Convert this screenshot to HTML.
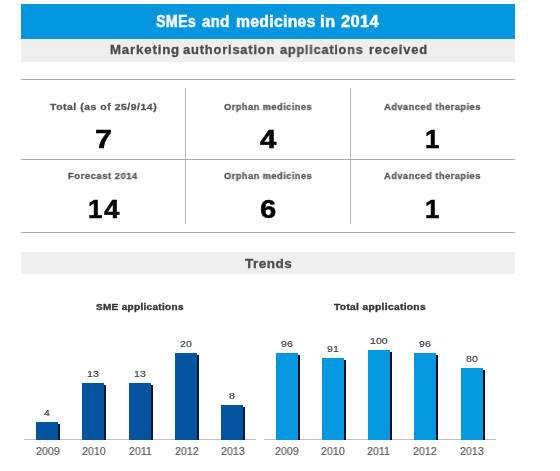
<!DOCTYPE html>
<html><head><meta charset="utf-8"><style>
html,body{margin:0;padding:0;background:#fff;width:560px;height:471px;overflow:hidden;position:relative}
body>div{position:absolute}
.t{will-change:transform;white-space:nowrap;line-height:1;font-family:"Liberation Sans",sans-serif;transform-origin:0 0}
</style></head><body>
<div style="left:21px;top:4px;width:494px;height:35px;background:#0396de;"></div>
<div style="left:21px;top:39px;width:494px;height:23px;background:#efefef;"></div>
<div style="left:21px;top:79px;width:494px;height:1px;background:#aaaaaa;"></div>
<div style="left:21px;top:159px;width:494px;height:1px;background:#aaaaaa;"></div>
<div style="left:21px;top:232px;width:494px;height:1px;background:#aaaaaa;"></div>
<div style="left:185px;top:88px;width:1px;height:136px;background:#b4b4b4;"></div>
<div style="left:350px;top:88px;width:1px;height:136px;background:#b4b4b4;"></div>
<div style="left:21px;top:252px;width:494px;height:22px;background:#efefef;"></div>
<div style="left:24px;top:439px;width:232px;height:1px;background:#c0c0c0;"></div>
<div style="left:264px;top:439px;width:232px;height:1px;background:#c0c0c0;"></div>
<div class="t" style="left:156.26px;top:14px;font-size:15.698px;font-weight:bold;color:#ffffff;-webkit-text-stroke:0.5px #ffffff;letter-spacing:0.3px;transform:scaleX(0.9097)">SMEs</div>
<div class="t" style="left:202.28px;top:14px;font-size:15.698px;font-weight:bold;color:#ffffff;-webkit-text-stroke:0.5px #ffffff;letter-spacing:0.3px;transform:scaleX(0.9555)">and</div>
<div class="t" style="left:236.11px;top:14px;font-size:15.698px;font-weight:bold;color:#ffffff;-webkit-text-stroke:0.5px #ffffff;letter-spacing:0.3px;transform:scaleX(1.0036)">medicines</div>
<div class="t" style="left:319.58px;top:14px;font-size:15.698px;font-weight:bold;color:#ffffff;-webkit-text-stroke:0.5px #ffffff;letter-spacing:0.3px;transform:scaleX(1.0683)">in</div>
<div class="t" style="left:341.27px;top:14px;font-size:15.698px;font-weight:bold;color:#ffffff;-webkit-text-stroke:0.5px #ffffff;letter-spacing:0.3px;transform:scaleX(1.0556)">2014</div>
<div class="t" style="left:109.67px;top:44px;font-size:12.936px;font-weight:bold;color:#4a4a4a;-webkit-text-stroke:0.3px #4a4a4a;letter-spacing:0.8px;transform:scaleX(1.0257)">Marketing</div>
<div class="t" style="left:183.34px;top:44px;font-size:12.936px;font-weight:bold;color:#4a4a4a;-webkit-text-stroke:0.3px #4a4a4a;letter-spacing:0.8px;transform:scaleX(0.9987)">authorisation</div>
<div class="t" style="left:280.15px;top:44px;font-size:12.936px;font-weight:bold;color:#4a4a4a;-webkit-text-stroke:0.3px #4a4a4a;letter-spacing:0.8px;transform:scaleX(0.9829)">applications</div>
<div class="t" style="left:368.59px;top:44px;font-size:12.936px;font-weight:bold;color:#4a4a4a;-webkit-text-stroke:0.3px #4a4a4a;letter-spacing:0.8px;transform:scaleX(0.9995)">received</div>
<div class="t" style="left:49.95px;top:102px;font-size:9.593px;font-weight:bold;color:#555555;-webkit-text-stroke:0.3px #555555;letter-spacing:0.5px;transform:scaleX(1.0863)">Total (as of 25/9/14)</div>
<div class="t" style="left:223.87px;top:102px;font-size:9.593px;font-weight:bold;color:#555555;-webkit-text-stroke:0.3px #555555;letter-spacing:0.5px;transform:scaleX(0.9625)">Orphan medicines</div>
<div class="t" style="left:384.05px;top:102px;font-size:9.593px;font-weight:bold;color:#555555;-webkit-text-stroke:0.3px #555555;letter-spacing:0.5px;transform:scaleX(0.969)">Advanced therapies</div>
<div class="t" style="left:68.42px;top:171px;font-size:9.593px;font-weight:bold;color:#555555;-webkit-text-stroke:0.3px #555555;letter-spacing:0.5px;transform:scaleX(0.9914)">Forecast 2014</div>
<div class="t" style="left:223.87px;top:171px;font-size:9.593px;font-weight:bold;color:#555555;-webkit-text-stroke:0.3px #555555;letter-spacing:0.5px;transform:scaleX(0.9625)">Orphan medicines</div>
<div class="t" style="left:384.05px;top:171px;font-size:9.593px;font-weight:bold;color:#555555;-webkit-text-stroke:0.3px #555555;letter-spacing:0.5px;transform:scaleX(0.969)">Advanced therapies</div>
<div class="t" style="left:94.93px;top:127px;font-size:25.873px;font-weight:bold;color:#000000;-webkit-text-stroke:0.5px #000000;transform:scaleX(1.1795)">7</div>
<div class="t" style="left:259.55px;top:127px;font-size:25.873px;font-weight:bold;color:#000000;-webkit-text-stroke:0.5px #000000;transform:scaleX(1.1352)">4</div>
<div class="t" style="left:425.41px;top:127px;font-size:25.873px;font-weight:bold;color:#000000;-webkit-text-stroke:0.5px #000000;transform:scaleX(0.9802)">1</div>
<div class="t" style="left:87.52px;top:197px;font-size:25.873px;font-weight:bold;color:#000000;-webkit-text-stroke:0.5px #000000;transform:scaleX(0.9723)">1</div>
<div class="t" style="left:104.26px;top:197px;font-size:25.873px;font-weight:bold;color:#000000;-webkit-text-stroke:0.5px #000000;transform:scaleX(1.0655)">4</div>
<div class="t" style="left:260.07px;top:196px;font-size:26.454px;font-weight:bold;color:#000000;-webkit-text-stroke:0.5px #000000;transform:scaleX(1.1078)">6</div>
<div class="t" style="left:425.38px;top:197px;font-size:25.873px;font-weight:bold;color:#000000;-webkit-text-stroke:0.5px #000000;transform:scaleX(0.9962)">1</div>
<div class="t" style="left:244.8px;top:257px;font-size:13.372px;font-weight:bold;color:#4d4d4d;-webkit-text-stroke:0.35px #4d4d4d;letter-spacing:0.5px;transform:scaleX(1.0087)">Trends</div>
<div class="t" style="left:96.2px;top:302px;font-size:9.739px;font-weight:bold;color:#333333;-webkit-text-stroke:0.35px #333333;letter-spacing:0.3px;transform:scaleX(1.0292)">SME applications</div>
<div class="t" style="left:333.65px;top:302px;font-size:9.739px;font-weight:bold;color:#333333;-webkit-text-stroke:0.35px #333333;letter-spacing:0.3px;transform:scaleX(1.0533)">Total applications</div>
<div style="left:58px;top:424px;width:2px;height:16px;background:#061a38"></div>
<div style="left:36px;top:422px;width:22px;height:18px;background:#03539f"></div>
<div class="t" style="left:44.09px;top:409px;font-size:9.302px;font-weight:normal;color:#3c3c3c;-webkit-text-stroke:0.15px #3c3c3c;transform:scaleX(1.137)">4</div>
<div class="t" style="left:35.62px;top:446px;font-size:11.192px;font-weight:normal;color:#555555;-webkit-text-stroke:0.15px #555555;transform:scaleX(0.9519)">2009</div>
<div style="left:104px;top:385px;width:2px;height:55px;background:#061a38"></div>
<div style="left:82px;top:383px;width:22px;height:57px;background:#03539f"></div>
<div class="t" style="left:86.95px;top:370px;font-size:9.302px;font-weight:normal;color:#3c3c3c;-webkit-text-stroke:0.15px #3c3c3c;transform:scaleX(1.137)">13</div>
<div class="t" style="left:81.59px;top:446px;font-size:11.192px;font-weight:normal;color:#555555;-webkit-text-stroke:0.15px #555555;transform:scaleX(0.9519)">2010</div>
<div style="left:151px;top:385px;width:2px;height:55px;background:#061a38"></div>
<div style="left:129px;top:383px;width:22px;height:57px;background:#03539f"></div>
<div class="t" style="left:133.95px;top:370px;font-size:9.302px;font-weight:normal;color:#3c3c3c;-webkit-text-stroke:0.15px #3c3c3c;transform:scaleX(1.137)">13</div>
<div class="t" style="left:129.02px;top:446px;font-size:11.192px;font-weight:normal;color:#555555;-webkit-text-stroke:0.15px #555555;transform:scaleX(0.9519)">2011</div>
<div style="left:197px;top:355px;width:2px;height:85px;background:#061a38"></div>
<div style="left:175px;top:353px;width:22px;height:87px;background:#03539f"></div>
<div class="t" style="left:180.08px;top:340px;font-size:9.302px;font-weight:normal;color:#3c3c3c;-webkit-text-stroke:0.15px #3c3c3c;transform:scaleX(1.137)">20</div>
<div class="t" style="left:174.65px;top:446px;font-size:11.192px;font-weight:normal;color:#555555;-webkit-text-stroke:0.15px #555555;transform:scaleX(0.9519)">2012</div>
<div style="left:243px;top:407px;width:2px;height:33px;background:#061a38"></div>
<div style="left:221px;top:405px;width:22px;height:35px;background:#03539f"></div>
<div class="t" style="left:229.07px;top:392px;font-size:9.302px;font-weight:normal;color:#3c3c3c;-webkit-text-stroke:0.15px #3c3c3c;transform:scaleX(1.137)">8</div>
<div class="t" style="left:220.62px;top:446px;font-size:11.192px;font-weight:normal;color:#555555;-webkit-text-stroke:0.15px #555555;transform:scaleX(0.9519)">2013</div>
<div style="left:298px;top:355px;width:2px;height:85px;background:#0a0f1e"></div>
<div style="left:276px;top:353px;width:22px;height:87px;background:#0597de"></div>
<div class="t" style="left:281.1px;top:340px;font-size:9.302px;font-weight:normal;color:#3c3c3c;-webkit-text-stroke:0.15px #3c3c3c;transform:scaleX(1.137)">96</div>
<div class="t" style="left:274.72px;top:446px;font-size:11.192px;font-weight:normal;color:#555555;-webkit-text-stroke:0.15px #555555;transform:scaleX(0.9519)">2009</div>
<div style="left:344px;top:360px;width:2px;height:80px;background:#0a0f1e"></div>
<div style="left:322px;top:358px;width:22px;height:82px;background:#0597de"></div>
<div class="t" style="left:327.13px;top:345px;font-size:9.302px;font-weight:normal;color:#3c3c3c;-webkit-text-stroke:0.15px #3c3c3c;transform:scaleX(1.137)">91</div>
<div class="t" style="left:320.69px;top:446px;font-size:11.192px;font-weight:normal;color:#555555;-webkit-text-stroke:0.15px #555555;transform:scaleX(0.9519)">2010</div>
<div style="left:390px;top:352px;width:2px;height:88px;background:#0a0f1e"></div>
<div style="left:368px;top:350px;width:22px;height:90px;background:#0597de"></div>
<div class="t" style="left:369.96px;top:337px;font-size:9.302px;font-weight:normal;color:#3c3c3c;-webkit-text-stroke:0.15px #3c3c3c;transform:scaleX(1.137)">100</div>
<div class="t" style="left:367.12px;top:446px;font-size:11.192px;font-weight:normal;color:#555555;-webkit-text-stroke:0.15px #555555;transform:scaleX(0.9519)">2011</div>
<div style="left:436px;top:355px;width:2px;height:85px;background:#0a0f1e"></div>
<div style="left:414px;top:353px;width:22px;height:87px;background:#0597de"></div>
<div class="t" style="left:419.1px;top:340px;font-size:9.302px;font-weight:normal;color:#3c3c3c;-webkit-text-stroke:0.15px #3c3c3c;transform:scaleX(1.137)">96</div>
<div class="t" style="left:412.75px;top:446px;font-size:11.192px;font-weight:normal;color:#555555;-webkit-text-stroke:0.15px #555555;transform:scaleX(0.9519)">2012</div>
<div style="left:483px;top:370px;width:2px;height:70px;background:#0a0f1e"></div>
<div style="left:461px;top:368px;width:22px;height:72px;background:#0597de"></div>
<div class="t" style="left:466.1px;top:355px;font-size:9.302px;font-weight:normal;color:#3c3c3c;-webkit-text-stroke:0.15px #3c3c3c;transform:scaleX(1.137)">80</div>
<div class="t" style="left:459.72px;top:446px;font-size:11.192px;font-weight:normal;color:#555555;-webkit-text-stroke:0.15px #555555;transform:scaleX(0.9519)">2013</div>
</body></html>
